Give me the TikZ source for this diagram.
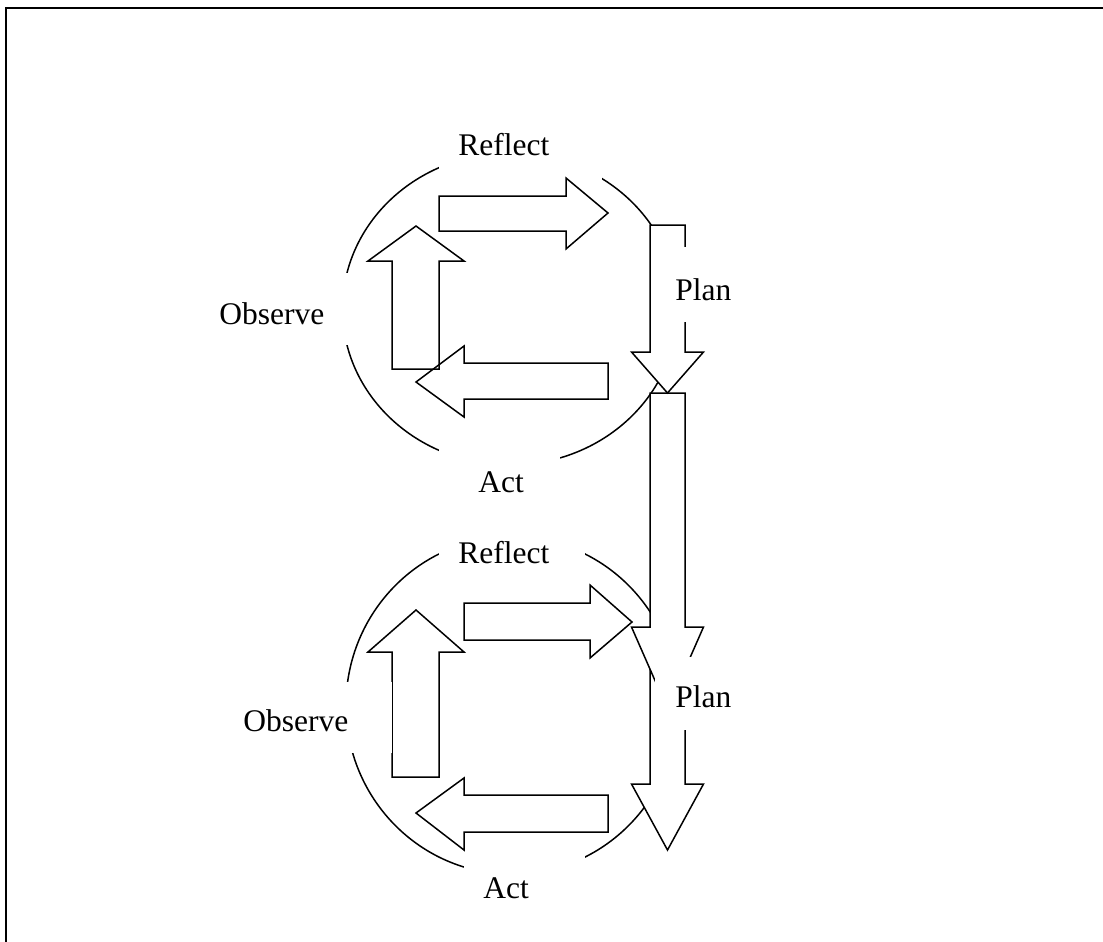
\documentclass[tikz,border=0pt]{standalone}
\usepackage{fontspec}
\setmainfont{Liberation Serif}
\begin{document}
\begin{tikzpicture}[x=0.5pt,y=-0.5pt,
  lbl/.style={anchor=base west,inner sep=0pt,font=\fontsize{15.75}{18}\selectfont},
  ring/.style={draw=black,line width=0.75pt},
  blockarrow/.style={draw=black,line width=0.75pt,line join=miter},
  plainarrow/.style={blockarrow,fill=white},
  mask/.style={fill=white,draw=none},
  frameline/.style={draw=black,line width=1pt}]
\useasboundingbox (0,0) rectangle (1103,942);
% frame
\draw[frameline] (6,942) -- (6,7.5) -- (1103,7.5);
% cycle rings
\draw[ring] (510,309) ellipse [x radius=83.75pt, y radius=78pt];
\draw[ring] (512,705.5) ellipse [x radius=83pt, y radius=84.35pt];
% masks under Reflect / Act labels
\fill[mask] (439,120) rectangle (602,180);
\fill[mask] (439,440) rectangle (560,500);
\fill[mask] (439,520) rectangle (585,560);
\fill[mask] (464,853) rectangle (585,910);
% upper cycle arrows
\draw[blockarrow] (439,196) -- (566,196) -- (566,178) -- (608,213) -- (566,249) -- (566,231) -- (439,231) -- cycle;
\draw[blockarrow] (392,369) -- (392,261) -- (368,261) -- (416,226) -- (464,261) -- (439,261) -- (439,369) -- cycle;
\draw[blockarrow] (608,363) -- (464,363) -- (464,346) -- (416,382) -- (464,417) -- (464,399) -- (608,399) -- cycle;
% lower cycle arrows
\draw[blockarrow] (464,603) -- (590,603) -- (590,585) -- (632,622) -- (590,658) -- (590,640) -- (464,640) -- cycle;
\draw[blockarrow] (392,777) -- (392,652) -- (368,652) -- (416,610) -- (464,652) -- (439,652) -- (439,777) -- cycle;
\draw[blockarrow] (608,795) -- (464,795) -- (464,778) -- (416,813) -- (464,850) -- (464,832) -- (608,832) -- cycle;
% masks under Observe labels
\fill[mask] (200,273) rectangle (360,345);
\fill[mask] (230,682) rectangle (392,753);
% plan arrows
\draw[plainarrow] (650,650) -- (685,650) -- (685,784) -- (703.5,784) -- (667.5,850) -- (631.5,784) -- (650,784) -- cycle;
\draw[plainarrow] (650,393) -- (685,393) -- (685,627) -- (703.5,627) -- (667.5,709) -- (631.5,627) -- (650,627) -- cycle;
\draw[plainarrow] (650,225) -- (685,225) -- (685,352) -- (703.5,352) -- (667.5,393) -- (631.5,352) -- (650,352) -- cycle;
% masks under Plan labels
\fill[mask] (668,247) rectangle (745,322);
\fill[mask] (655,657) rectangle (745,730);
% labels
\node[lbl] (reflect1) at (458,155) {Reflect};
\node[lbl] (plan1) at (675,300) {Plan};
\node[lbl] (observe1) at (219,324) {Observe};
\node[lbl] (act1) at (478,492) {Act};
\node[lbl] (reflect2) at (458,563) {Reflect};
\node[lbl] (plan2) at (675,707) {Plan};
\node[lbl] (observe2) at (243,731) {Observe};
\node[lbl] (act2) at (483,898) {Act};
\end{tikzpicture}
\end{document}
